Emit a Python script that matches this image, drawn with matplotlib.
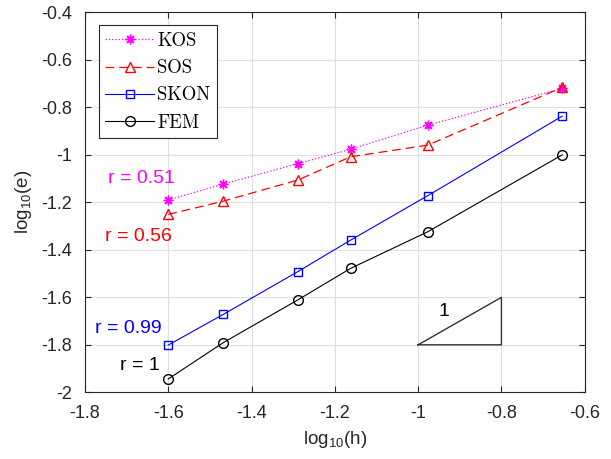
import numpy as np
import matplotlib
matplotlib.use('Agg')
import matplotlib.pyplot as plt

plt.rcParams['font.family'] = ['Liberation Sans', 'DejaVu Sans']
plt.rcParams['mathtext.fontset'] = 'custom'
plt.rcParams['mathtext.rm'] = 'Liberation Sans'
plt.rcParams['axes.unicode_minus'] = False

# log10(h) for each mesh
log_h = [-1.6, -1.468, -1.289, -1.162, -0.977, -0.654]

# log10(e) per method
kos = [-1.190, -1.123, -1.037, -0.976, -0.875, -0.720]
sos = [-1.251, -1.195, -1.106, -1.008, -0.959, -0.716]
skon = [-1.801, -1.672, -1.492, -1.359, -1.172, -0.837]
fem = [-1.944, -1.791, -1.611, -1.478, -1.324, -1.000]

rates = ['r = 0.51', 'r = 0.56', 'r = 0.99', 'r = 1']
rate_pos = [(-1.745, -1.10), (-1.752, -1.345), (-1.776, -1.733), (-1.716, -1.885)]

# slope triangle
tri_x = [-1.0, -0.8, -0.8, -1.0]
tri_y = [-1.8, -1.8, -1.6, -1.8]

fig = plt.figure(figsize=(6.11, 4.59), dpi=100)
ax = fig.add_axes([0.139, 0.1453, 0.818, 0.8277])

ax.plot(log_h, kos, ':', color='magenta', marker=(8, 2, 0), ms=7, lw=0.9,
        mew=1.0, label='KOS')
ax.plot(log_h, sos, '--', color='red', marker='^', ms=7.5, lw=0.9,
        mfc='none', dashes=(7, 4), label='SOS')
ax.plot(log_h, skon, '-', color='blue', marker='s', ms=6, lw=0.8,
        mfc='none', label='SKON')
ax.plot(log_h, fem, '-', color='black', marker='o', ms=7, lw=0.8,
        mfc='none', label='FEM')

ax.plot(tri_x, tri_y, '-', color='0.2', lw=1.0)
ax.text(-0.952, -1.66, '1', fontsize=14, va='center', ha='left')

colors = ['magenta', 'red', 'blue', 'black']
for t, (x, y), c in zip(rates, rate_pos, colors):
    ax.text(x, y, t, color=c, fontsize=14, va='center', ha='left')

ax.set_xlim(-1.8, -0.6)
ax.set_ylim(-2, -0.4)
ax.set_xticks(np.arange(-1.8, -0.59, 0.2))
ax.set_yticks(np.arange(-2, -0.39, 0.2))
ax.set_xticklabels(['-1.8', '-1.6', '-1.4', '-1.2', '-1', '-0.8', '-0.6'])
ax.set_yticklabels(['-2', '-1.8', '-1.6', '-1.4', '-1.2', '-1', '-0.8',
                    '-0.6', '-0.4'])
ax.grid(True, color='0.88', lw=0.8)
ax.set_axisbelow(True)
ax.tick_params(direction='in', top=True, right=True, labelsize=13,
               colors='0.15', length=4)
ax.tick_params(axis='y', pad=9)
ax.tick_params(axis='x', pad=9)
for s in ax.spines.values():
    s.set_color('0.15')
    s.set_linewidth(0.8)

ax.set_xlabel('log$_{10}$(h)', fontsize=13.5, color='0.15', labelpad=5)
ax.set_ylabel('log$_{10}$(e)', fontsize=13.5, color='0.15', labelpad=5)

leg = ax.legend(loc='upper left', bbox_to_anchor=(0.028, 0.966),
                borderaxespad=0, prop={'family': 'cmr10', 'size': 13.5},
                fancybox=False, edgecolor='0.15', handlelength=2.6,
                handletextpad=0.15, labelspacing=0.5, borderpad=0.35,
                framealpha=1)
leg.get_frame().set_linewidth(0.8)

fig.savefig('out.png', dpi=100)
